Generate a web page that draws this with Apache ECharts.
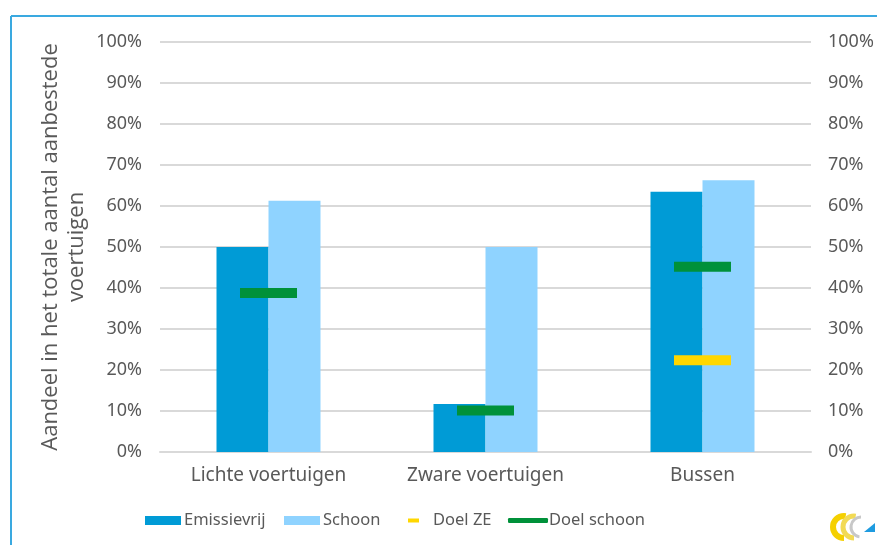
<!DOCTYPE html>
<html>
<head>
<meta charset="utf-8">
<script src="https://cdn.jsdelivr.net/npm/echarts@6/dist/echarts.min.js"></script>
<style>
  html, body { margin: 0; padding: 0; background: #fff; }
  #chart { width: 877px; height: 545px; }
</style>
</head>
<body>
<div id="chart"></div>
<script>
// Vehicle categories and shares (%) of the total number of tendered vehicles
const categories = ['Lichte voertuigen', 'Zware voertuigen', 'Bussen'];
const emissievrij = [50, 11.7, 63.5];
const schoon = [61.3, 50, 66.3];
const doelZE = ['-', '-', 22.4];
const doelSchoon = [38.8, 10.1, 45.2];
const yTicks = [0, 10, 20, 30, 40, 50, 60, 70, 80, 90, 100];

const FONT = '"Noto Sans", sans-serif';
const TITLE_FONT = 'Open Sans';
const TXT = '#595959';
const C_ZE = '#009BD6';
const C_SCHOON = '#8FD3FF';
const C_GOAL_ZE = '#FFD700';
const C_GOAL_SCHOON = '#00913A';

const chart = echarts.init(document.getElementById('chart'), null, { renderer: 'canvas' });

const axisLabel = { color: TXT, fontFamily: FONT, fontSize: 18, formatter: '{value}%' };

function legendFor(name, left, w, h, icon, gap) {
  return {
    left: left, top: 512, padding: 0, itemWidth: w, itemHeight: h, itemGap: 0,
    icon: icon, data: [name], selectedMode: false,
    textStyle: { color: TXT, fontFamily: FONT, fontSize: 16.5, padding: [0, 0, 0, gap] }
  };
}

chart.setOption({
  animation: false,
  grid: { left: 160, right: 66, top: 42, bottom: 93, outerBoundsMode: 'none', containLabel: false },
  legend: [
    legendFor('Emissievrij', 145, 36, 9, 'rect', -2),
    legendFor('Schoon', 284, 36, 9, 'rect', -2),
    legendFor('Doel ZE', 408, 11, 4, 'rect', 9),
    legendFor('Doel schoon', 508, 40, 5, 'roundRect', -4)
  ],
  xAxis: {
    type: 'category',
    data: categories,
    axisLine: { lineStyle: { color: '#d9d9d9', width: 2 } },
    axisTick: { show: false },
    axisLabel: { color: TXT, fontFamily: FONT, fontSize: 19, margin: 14 }
  },
  yAxis: [
    {
      type: 'value', min: 0, max: 100, interval: 10,
      axisLabel: Object.assign({ margin: 18 }, axisLabel),
      splitLine: { lineStyle: { color: '#d9d9d9', width: 2 } },
      axisLine: { show: false }, axisTick: { show: false },
      name: 'Aandeel in het totale aantal aanbestede\nvoertuigen',
      nameLocation: 'middle', nameGap: 70, nameRotate: 90, nameMoveOverlap: false,
      nameTextStyle: { color: TXT, fontFamily: TITLE_FONT, fontSize: 22, lineHeight: 26 }
    },
    {
      type: 'value', min: 0, max: 100, interval: 10, position: 'right',
      axisLabel: Object.assign({ margin: 17 }, axisLabel),
      splitLine: { show: false },
      axisLine: { show: false }, axisTick: { show: false }
    }
  ],
  series: [
    { name: 'Emissievrij', type: 'bar', data: emissievrij, barWidth: 52, barGap: '0%',
      itemStyle: { color: C_ZE } },
    { name: 'Schoon', type: 'bar', data: schoon, barWidth: 52, barGap: '0%',
      itemStyle: { color: C_SCHOON } },
    { name: 'Doel ZE', type: 'scatter', data: doelZE, symbol: 'rect', symbolSize: [57, 10],
      itemStyle: { color: C_GOAL_ZE, opacity: 1 }, z: 5 },
    { name: 'Doel schoon', type: 'scatter', data: doelSchoon, symbol: 'rect', symbolSize: [57, 10],
      itemStyle: { color: C_GOAL_SCHOON, opacity: 1 }, z: 5 }
  ],
  graphic: [
    // light blue frame along the top and left edges
    { type: 'line', shape: { x1: 11, y1: 16, x2: 877, y2: 16 }, style: { stroke: '#3AA9E0', lineWidth: 2 } },
    { type: 'line', shape: { x1: 11, y1: 16, x2: 11, y2: 545 }, style: { stroke: '#3AA9E0', lineWidth: 2 } },
    // small logo in the lower right corner
    { type: 'group', x: 830, y: 512, children: [
      { type: 'arc', shape: { cx: 14, cy: 15, r: 11, startAngle: Math.PI * 0.5, endAngle: Math.PI * 1.55 },
        style: { stroke: '#F5D000', lineWidth: 6, fill: null } },
      { type: 'arc', shape: { cx: 24, cy: 15, r: 11, startAngle: Math.PI * 0.5, endAngle: Math.PI * 1.55 },
        style: { stroke: '#F2DA55', lineWidth: 5, fill: null } },
      { type: 'arc', shape: { cx: 31, cy: 15, r: 10, startAngle: Math.PI * 0.55, endAngle: Math.PI * 1.5 },
        style: { stroke: '#C8C8C8', lineWidth: 3, fill: null } },
      { type: 'polygon', shape: { points: [[34, 20], [45, 11], [45, 20]] }, style: { fill: '#1E9BE0' } }
    ] }
  ]
});
</script>
</body>
</html>
